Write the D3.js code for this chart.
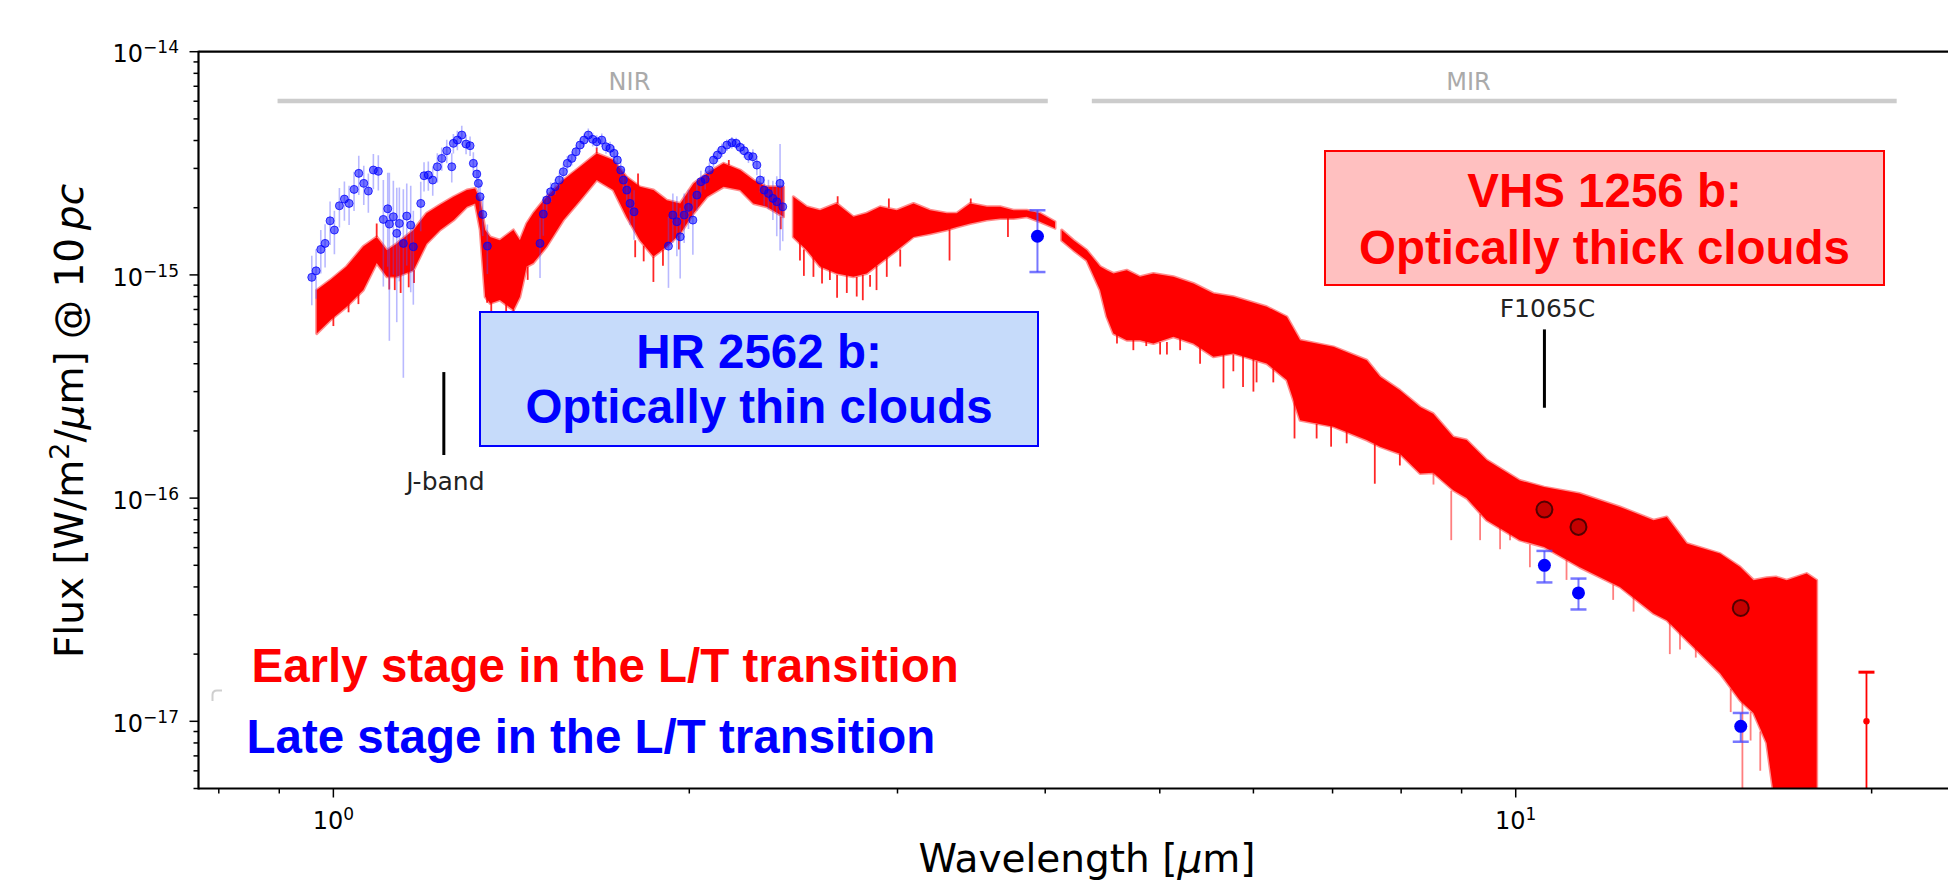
<!DOCTYPE html>
<html>
<head>
<meta charset="utf-8">
<title>HR 2562 b and VHS 1256 b spectra</title>
<script src="https://cdn.jsdelivr.net/npm/d3@7/dist/d3.min.js"></script>
<style>
  html, body { margin: 0; padding: 0; background: #ffffff; }
  svg { display: block; }
</style>
</head>
<body>
<svg id="chart" width="1948" height="886"></svg>
<script>
// ---------------- data ----------------
// VHS 1256 b model spectrum: wavelength (µm), upper / lower edge of the flux band (W/m²/µm at 10 pc),
// split in three wavelength segments
const vhsSegment = [
  0,0,0,0,0,0,0,0,0,0,0,0,0,0,0,0,0,0,0,0,0,0,0,0,0,0,0,0,0,0,0,0,0,0,0,0,0,0,
  1,1,1,1,1,1,1,1,1,1,1,1,1,1,1,1,1,1,1,
  2,2,2,2,2,2,2,2,2,2,2,2,2,2,2,2,2,2,2,2,2,2,2,2,2,2,2,2,2,2,2,2,2,2,2,2,2,2,2,2
];
const vhsWave = [
  0.968, 0.994, 1.026, 1.060, 1.088, 1.110, 1.131, 1.169, 1.199, 1.231, 1.264, 1.297, 1.318,
  1.331, 1.344, 1.357, 1.383, 1.420, 1.438, 1.457, 1.476, 1.515, 1.565, 1.617, 1.670, 1.725,
  1.770, 1.817, 1.865, 1.914, 1.965, 2.017, 2.070, 2.138, 2.208, 2.266, 2.325, 2.403,
  2.449, 2.514, 2.580, 2.665, 2.753, 2.825, 2.900, 2.996, 3.095, 3.196, 3.302, 3.367, 3.456,
  3.570, 3.664, 3.760, 3.859, 3.960, 4.077,
  4.130, 4.226, 4.337, 4.451, 4.509, 4.568, 4.688, 4.811, 4.938, 5.134,
  5.338, 5.550, 5.771, 6.158, 6.403, 6.571, 7.012, 7.482, 7.679, 7.981,
  8.300, 8.516, 8.856, 9.087, 9.450, 10.08, 10.57, 11.32, 12.25, 13.08,
  13.42, 13.95, 14.89, 15.48, 15.89, 16.30, 16.60, 16.95, 17.62, 17.97
];
const vhsHigh = [
  8.55e-16, 9.48e-16, 1.09e-15, 1.34e-15, 1.48e-15, 1.29e-15, 1.38e-15, 1.59e-15, 1.89e-15, 2.06e-15, 2.24e-15, 2.40e-15, 2.44e-15,
  2.16e-15, 1.59e-15, 1.48e-15, 1.43e-15, 1.59e-15, 1.43e-15, 1.70e-15, 1.89e-15, 2.24e-15, 2.66e-15, 3.05e-15, 3.50e-15, 3.27e-15,
  2.75e-15, 2.48e-15, 2.40e-15, 2.16e-15, 2.09e-15, 2.57e-15, 2.85e-15, 3.16e-15, 2.95e-15, 2.66e-15, 2.48e-15, 2.48e-15,
  2.24e-15, 2.02e-15, 1.95e-15, 2.09e-15, 1.82e-15, 1.89e-15, 2.02e-15, 1.95e-15, 2.09e-15, 1.95e-15, 1.89e-15, 1.89e-15, 2.09e-15,
  2.02e-15, 2.02e-15, 1.95e-15, 1.95e-15, 1.89e-15, 1.73e-15,
  1.59e-15, 1.43e-15, 1.29e-15, 1.09e-15, 1.05e-15, 1.015e-15, 1.05e-15, 9.81e-16, 1.015e-15, 9.81e-16,
  9.16e-16, 8.26e-16, 7.98e-16, 7.20e-16, 6.49e-16, 5.10e-16, 4.76e-16, 4.15e-16, 3.50e-16, 3.04e-16,
  2.56e-16, 2.39e-16, 1.88e-16, 1.82e-16, 1.48e-16, 1.20e-16, 1.12e-16, 1.05e-16, 9.13e-17, 7.96e-17,
  8.23e-17, 6.26e-17, 5.64e-17, 4.91e-17, 4.29e-17, 4.40e-17, 4.43e-17, 4.29e-17, 4.59e-17, 4.29e-17
];
const vhsLow = [
  5.46e-16, 6.27e-16, 7.20e-16, 8.55e-16, 1.13e-15, 9.81e-16, 9.81e-16, 1.05e-15, 1.38e-15, 1.59e-15, 1.76e-15, 2.02e-15, 2.09e-15,
  1.59e-15, 7.98e-16, 7.45e-16, 7.71e-16, 6.96e-16, 7.98e-16, 1.09e-15, 1.13e-15, 1.34e-15, 1.76e-15, 2.16e-15, 2.66e-15, 2.40e-15,
  1.82e-15, 1.43e-15, 1.21e-15, 1.34e-15, 1.53e-15, 1.89e-15, 2.24e-15, 2.48e-15, 2.40e-15, 2.09e-15, 2.02e-15, 1.82e-15,
  1.48e-15, 1.29e-15, 1.09e-15, 1.015e-15, 9.81e-16, 1.015e-15, 1.13e-15, 1.29e-15, 1.48e-15, 1.53e-15, 1.59e-15, 1.64e-15, 1.70e-15,
  1.76e-15, 1.79e-15, 1.79e-15, 1.82e-15, 1.73e-15, 1.62e-15,
  1.43e-15, 1.29e-15, 1.16e-15, 8.55e-16, 6.49e-16, 5.46e-16, 5.10e-16, 5.10e-16, 4.93e-16, 5.28e-16,
  4.93e-16, 4.30e-16, 4.45e-16, 4.01e-16, 3.38e-16, 2.23e-16, 2.09e-16, 1.82e-16, 1.70e-16, 1.58e-16,
  1.29e-16, 1.30e-16, 1.085e-16, 1.00e-16, 7.96e-17, 6.48e-17, 6.04e-17, 4.91e-17, 4.00e-17, 3.04e-17,
  2.84e-17, 2.31e-17, 1.64e-17, 1.24e-17, 1.09e-17, 8.0e-18, 4.0e-18, 4.0e-18, 4.0e-18, 4.0e-18
];

// Narrow spectral features sticking out of the band: wavelength, flux where they start, flux where they end
const dipWave = [
  1.000, 1.030, 1.050, 1.088, 1.115, 1.127, 1.140, 1.158, 1.170, 1.349,
  1.36, 1.40, 1.420, 1.46, 1.67, 1.800, 1.81, 1.83, 1.865, 1.90,
  1.96, 2.16, 2.39, 2.481, 2.50, 2.547, 2.59, 2.63, 2.667, 2.67,
  2.718, 2.771, 2.804, 2.844, 2.88, 2.938, 2.95, 3.016, 3.32, 3.46,
  3.72, 4.60, 4.749, 4.87, 5.003, 5.07, 5.202, 5.408, 5.66, 5.770,
  5.88, 6.00, 6.037, 6.237, 6.50, 6.786, 6.98, 7.195, 7.60, 7.98,
  8.52, 8.82, 9.33, 9.70, 9.89, 10.28, 11.04, 12.09, 12.58, 13.5,
  13.77, 14.2, 15.2, 15.55, 15.80, 16.10
];
const dipFrom = [
  6.5e-16, 7.6e-16, 8.3e-16, 1.48e-15, 1.0e-15, 1.0e-15, 1.0e-15, 1.05e-15, 1.05e-15, 8.0e-16,
  7.5e-16, 7.4e-16, 7.0e-16, 1.09e-15, 3.5e-15, 1.43e-15, 2.5e-15, 1.35e-15, 1.21e-15, 1.3e-15,
  1.5e-15, 3.1e-15, 1.82e-15, 1.4e-15, 1.3e-15, 1.2e-15, 1.1e-15, 1.1e-15, 1.0e-15, 2.09e-15,
  1.0e-15, 9.8e-16, 1.0e-15, 1.0e-15, 1.1e-15, 1.2e-15, 2.0e-15, 1.3e-15, 1.6e-15, 2.09e-15,
  1.8e-15, 5.5e-16, 5.2e-16, 5.1e-16, 5.0e-16, 5.0e-16, 5.2e-16, 4.8e-16, 4.4e-16, 4.4e-16,
  4.4e-16, 4.2e-16, 4.1e-16, 3.8e-16, 3.4e-16, 2.15e-16, 2.1e-16, 2.0e-16, 1.75e-16, 1.58e-16,
  1.30e-16, 1.08e-16, 8.5e-17, 7.5e-17, 7.0e-17, 6.2e-17, 5.3e-17, 4.1e-17, 3.6e-17, 2.8e-17,
  2.5e-17, 2.2e-17, 1.4e-17, 1.3e-17, 1.1e-17, 9e-18
];
const dipTo = [
  5.9e-16, 6.8e-16, 7.4e-16, 1.70e-15, 8.6e-16, 8.55e-16, 8.3e-16, 8.8e-16, 9.2e-16, 7.5e-16,
  6.5e-16, 6.6e-16, 6.3e-16, 9.5e-16, 3.72e-15, 1.2e-15, 2.85e-15, 1.15e-15, 9.3e-16, 1.1e-15,
  1.3e-15, 3.27e-15, 1.6e-15, 1.16e-15, 9.9e-16, 9.8e-16, 9.16e-16, 9.5e-16, 7.9e-16, 2.25e-15,
  8.3e-16, 8.0e-16, 7.7e-16, 8.85e-16, 8.55e-16, 9.8e-16, 2.2e-15, 1.09e-15, 1.16e-15, 2.2e-15,
  1.48e-15, 4.93e-16, 4.6e-16, 4.8e-16, 4.4e-16, 4.4e-16, 4.6e-16, 4.0e-16, 3.1e-16, 3.7e-16,
  3.15e-16, 3.0e-16, 3.3e-16, 3.3e-16, 1.85e-16, 1.85e-16, 1.70e-16, 1.76e-16, 1.16e-16, 1.40e-16,
  1.15e-16, 6.48e-17, 6.48e-17, 5.9e-17, 6.48e-17, 4.9e-17, 4.3e-17, 3.5e-17, 3.1e-17, 2.0e-17,
  2.1e-17, 1.93e-17, 1.1e-17, 4e-18, 8.2e-18, 6e-18
];

// HR 2562 b near-infrared spectrum: wavelength (µm), flux, relative uncertainty
const hrWave = [
  0.9588, 0.9669, 0.9758, 0.9840, 0.9936, 1.0020, 1.0118, 1.0217, 1.0311, 1.0411, 1.0507, 1.0610, 1.0705, 1.0810, 1.0915,
  1.1022, 1.1117, 1.1152, 1.1239, 1.1314, 1.1371, 1.1460, 1.1536, 1.1626, 1.1685,
  1.1855, 1.1931, 1.2031, 1.2135, 1.2244, 1.2350, 1.2471, 1.2593, 1.2633, 1.2731, 1.2841, 1.2949, 1.3050, 1.3134, 1.3222,
  1.3263, 1.3307, 1.3377, 1.3497,
  1.4955, 1.5051, 1.5152, 1.5270, 1.5399, 1.5528, 1.5650, 1.5772, 1.5908, 1.6041, 1.6167, 1.6293, 1.6430, 1.6571, 1.6701,
  1.6865, 1.7006, 1.7140, 1.7274, 1.7385, 1.7501, 1.7590, 1.7707, 1.7821, 1.7960,
  1.9205, 1.9370, 1.9522, 1.9648, 1.9801, 1.9968, 2.0140, 2.0297, 2.0456, 2.0628, 2.0797, 2.0964, 2.1128, 2.1310, 2.1518,
  2.1729, 2.1911, 2.2083, 2.2256, 2.2443, 2.2636, 2.2813, 2.2960, 2.3140, 2.3334, 2.3536, 2.3714, 2.3867, 2.3993
];
const hrFlux = [
  9.75e-16, 1.043e-15, 1.301e-15, 1.384e-15, 1.747e-15, 1.588e-15, 2.040e-15, 2.186e-15, 2.091e-15, 2.416e-15, 2.851e-15, 2.571e-15, 2.375e-15, 2.950e-15, 2.911e-15,
  1.773e-15, 1.978e-15, 1.689e-15, 1.822e-15, 1.535e-15, 1.701e-15, 1.384e-15, 1.835e-15, 1.672e-15, 1.337e-15,
  2.091e-15, 2.781e-15, 2.801e-15, 2.660e-15, 3.051e-15, 3.327e-15, 3.599e-15, 3.051e-15, 3.885e-15, 4.019e-15, 4.232e-15, 3.857e-15, 3.790e-15, 3.161e-15, 2.831e-15,
  2.571e-15, 2.239e-15, 1.866e-15, 1.346e-15,
  1.384e-15, 1.873e-15, 2.164e-15, 2.358e-15, 2.483e-15, 2.660e-15, 2.899e-15, 3.161e-15, 3.327e-15, 3.562e-15, 3.817e-15, 4.019e-15, 4.232e-15, 4.048e-15, 3.949e-15,
  4.019e-15, 3.751e-15, 3.690e-15, 3.504e-15, 3.270e-15, 2.950e-15, 2.660e-15, 2.399e-15, 2.091e-15, 1.918e-15,
  1.346e-15, 1.854e-15, 1.730e-15, 1.482e-15, 1.854e-15, 2.007e-15, 1.760e-15, 2.278e-15, 2.614e-15, 2.680e-15, 2.950e-15, 3.270e-15, 3.443e-15, 3.625e-15, 3.817e-15,
  3.910e-15, 3.885e-15, 3.727e-15, 3.599e-15, 3.407e-15, 3.383e-15, 3.105e-15, 2.660e-15, 2.399e-15, 2.318e-15, 2.202e-15, 2.127e-15, 2.571e-15, 2.019e-15
];
const hrErr = [
  0.25, 0.25, 0.22, 0.22, 0.22, 0.22, 0.20, 0.20, 0.20, 0.20, 0.20, 0.20, 0.20, 0.18, 0.18,
  0.50, 0.45, 0.70, 0.45, 0.60, 0.45, 0.75, 0.40, 0.50, 0.45,
  0.25, 0.15, 0.15, 0.15, 0.15, 0.12, 0.12, 0.15, 0.10, 0.10, 0.10, 0.10, 0.10, 0.12, 0.12,
  0.15, 0.15, 0.20, 0.25,
  0.30, 0.20, 0.12, 0.10, 0.08, 0.08, 0.08, 0.08, 0.07, 0.07, 0.07, 0.07, 0.07, 0.07, 0.07,
  0.07, 0.07, 0.07, 0.08, 0.08, 0.10, 0.12, 0.15, 0.20, 0.25,
  0.35, 0.25, 0.30, 0.35, 0.25, 0.20, 0.30, 0.15, 0.12, 0.10, 0.08, 0.07, 0.07, 0.07, 0.06,
  0.06, 0.06, 0.06, 0.07, 0.07, 0.08, 0.10, 0.12, 0.15, 0.15, 0.20, 0.30, 0.50, 0.30
];

// HR 2562 b photometry (flux with lower / upper bounds)
const hrPhotWave = [3.94, 10.575, 11.30, 15.50];
const hrPhotFlux = [1.49e-15, 5.0e-17, 3.76e-17, 9.5e-18];
const hrPhotLow  = [1.03e-15, 4.19e-17, 3.17e-17, 8.1e-18];
const hrPhotHigh = [1.95e-15, 5.8e-17, 4.36e-17, 1.09e-17];

// VHS 1256 b MIRI photometry
const vhsPhotWave = [10.575, 11.30, 15.50];
const vhsPhotFlux = [8.89e-17, 7.43e-17, 3.22e-17];

// Long-wavelength point with its error bar
const lwWave = [19.8];
const lwFlux = [1.0e-17];
const lwLow  = [1.0e-19];
const lwHigh = [1.66e-17];

// Axis ticks
const xMajor = [1, 10];
const xMinor = [0.8, 0.9, 2, 3, 4, 5, 6, 7, 8, 9, 20];
const yMajor = [1e-14, 1e-15, 1e-16, 1e-17];
const yMinor = [
  2e-15, 3e-15, 4e-15, 5e-15, 6e-15, 7e-15, 8e-15, 9e-15,
  2e-16, 3e-16, 4e-16, 5e-16, 6e-16, 7e-16, 8e-16, 9e-16,
  2e-17, 3e-17, 4e-17, 5e-17, 6e-17, 7e-17, 8e-17, 9e-17,
  5e-18, 6e-18, 7e-18, 8e-18, 9e-18
];

// Spectral ranges drawn along the top
const rangeName  = ["NIR", "MIR"];
const rangeStart = [0.897, 4.38];
const rangeEnd   = [4.02, 21.0];
const rangeLabel = [1.78, 9.12];

// Filter markers
const markerName = ["J-band", "F1065C"];
const markerWave = [1.24, 10.575];
const markerHigh = [3.67e-16, 5.7e-16];
const markerLow  = [1.56e-16, 2.54e-16];

// ---------------- layout ----------------
const W = 1948, H = 886;
const plot = { left: 198.5, top: 51.7, right: 2000, bottom: 788.5 };
const xDomain = [0.769, 25.68];
const yDomain = [5e-18, 1e-14];

const x = d3.scaleLog().domain(xDomain).range([plot.left, plot.right]);
const y = d3.scaleLog().domain(yDomain).range([plot.bottom, plot.top]);

const RED = "#ff0000", BLUE = "#0000ff";
const axisFont = "'DejaVu Sans', sans-serif";
const boxFont = "'Liberation Sans', Arial, sans-serif";

const svg = d3.select("#chart");
svg.append("rect").attr("width", W).attr("height", H).attr("fill", "#ffffff");

svg.append("defs").append("clipPath").attr("id", "plotClip")
  .append("rect")
  .attr("x", plot.left).attr("y", plot.top)
  .attr("width", plot.right - plot.left).attr("height", plot.bottom - plot.top);

const dataG = svg.append("g").attr("clip-path", "url(#plotClip)");

// NIR / MIR range bars
rangeName.forEach((name, i) => {
  dataG.append("line")
    .attr("x1", x(rangeStart[i])).attr("x2", x(rangeEnd[i]))
    .attr("y1", 101).attr("y2", 101)
    .attr("stroke", "#cccccc").attr("stroke-width", 4.5);
  svg.append("text")
    .attr("x", x(rangeLabel[i])).attr("y", 90)
    .attr("text-anchor", "middle")
    .attr("font-family", axisFont).attr("font-size", 24)
    .attr("fill", "#aaaaaa")
    .text(name);
});

// VHS 1256 b model band
const vhsRows = vhsWave.map((w, i) => ({ w, hi: vhsHigh[i], lo: vhsLow[i], seg: vhsSegment[i] }));
const band = d3.area().x(d => x(d.w)).y0(d => y(d.lo)).y1(d => y(d.hi));
d3.groups(vhsRows, d => d.seg).forEach(([, rows]) => {
  dataG.append("path")
    .attr("d", band(rows))
    .attr("fill", RED)
    .attr("stroke", RED).attr("stroke-opacity", 0.45).attr("stroke-width", 3)
    .attr("stroke-linejoin", "round");
});

// narrow features
dataG.selectAll("line.dip")
  .data(dipWave.map((w, i) => ({ w, a: dipFrom[i], b: dipTo[i] })))
  .join("line")
  .attr("class", "dip")
  .attr("x1", d => x(d.w)).attr("x2", d => x(d.w))
  .attr("y1", d => y(d.a)).attr("y2", d => y(d.b))
  .attr("stroke", RED)
  .attr("stroke-opacity", d => d.w > 8 ? 0.5 : 0.85)
  .attr("stroke-width", 1.8);

// HR 2562 b spectrum: error bars then points
const hrRows = hrWave.map((w, i) => ({ w, f: hrFlux[i], e: hrErr[i] }));
dataG.selectAll("line.hrerr")
  .data(hrRows)
  .join("line")
  .attr("class", "hrerr")
  .attr("x1", d => x(d.w)).attr("x2", d => x(d.w))
  .attr("y1", d => y(d.f * (1 - d.e))).attr("y2", d => y(d.f * (1 + d.e)))
  .attr("stroke", "#5050ff").attr("stroke-opacity", 0.4).attr("stroke-width", 1.6);
dataG.selectAll("circle.hr")
  .data(hrRows)
  .join("circle")
  .attr("class", "hr")
  .attr("cx", d => x(d.w)).attr("cy", d => y(d.f))
  .attr("r", 4)
  .attr("fill", BLUE).attr("fill-opacity", 0.55)
  .attr("stroke", BLUE).attr("stroke-opacity", 0.75).attr("stroke-width", 1);

// error bar with caps
function capBar(g, xv, lo, hi, color, width, cap, opacity) {
  g.append("line").attr("x1", xv).attr("x2", xv).attr("y1", y(lo)).attr("y2", y(hi))
    .attr("stroke", color).attr("stroke-width", width).attr("stroke-opacity", opacity);
  [lo, hi].forEach(v => {
    g.append("line").attr("x1", xv - cap).attr("x2", xv + cap).attr("y1", y(v)).attr("y2", y(v))
      .attr("stroke", color).attr("stroke-width", width + 0.5).attr("stroke-opacity", opacity);
  });
}

// VHS 1256 b photometry
dataG.selectAll("circle.vhsphot")
  .data(vhsPhotWave.map((w, i) => ({ w, f: vhsPhotFlux[i] })))
  .join("circle")
  .attr("class", "vhsphot")
  .attr("cx", d => x(d.w)).attr("cy", d => y(d.f))
  .attr("r", 8)
  .attr("fill", "#b00000").attr("fill-opacity", 0.75)
  .attr("stroke", "#300000").attr("stroke-opacity", 0.8).attr("stroke-width", 2);

// HR 2562 b photometry
hrPhotWave.forEach((w, i) => capBar(dataG, x(w), hrPhotLow[i], hrPhotHigh[i], "#4a4aff", 2, 8, 0.75));
dataG.selectAll("circle.hrphot")
  .data(hrPhotWave.map((w, i) => ({ w, f: hrPhotFlux[i] })))
  .join("circle")
  .attr("class", "hrphot")
  .attr("cx", d => x(d.w)).attr("cy", d => y(d.f))
  .attr("r", 6.5)
  .attr("fill", BLUE);

// long-wavelength point
lwWave.forEach((w, i) => {
  dataG.append("line").attr("x1", x(w)).attr("x2", x(w)).attr("y1", y(lwLow[i])).attr("y2", y(lwHigh[i]))
    .attr("stroke", RED).attr("stroke-width", 1.8);
  dataG.append("line").attr("x1", x(w) - 8).attr("x2", x(w) + 8).attr("y1", y(lwHigh[i])).attr("y2", y(lwHigh[i]))
    .attr("stroke", RED).attr("stroke-width", 3);
  dataG.append("circle").attr("cx", x(w)).attr("cy", y(lwFlux[i])).attr("r", 3.2).attr("fill", RED);
});

// filter markers
markerName.forEach((name, i) => {
  const mx = x(markerWave[i]);
  svg.append("line").attr("x1", mx).attr("x2", mx)
    .attr("y1", y(markerHigh[i])).attr("y2", y(markerLow[i]))
    .attr("stroke", "#000000").attr("stroke-width", 3);
  const below = i === 0;
  svg.append("text")
    .attr("x", mx + (below ? 1.5 : 3))
    .attr("y", below ? y(markerLow[i]) + 35 : y(markerHigh[i]) - 12)
    .attr("text-anchor", "middle")
    .attr("font-family", axisFont).attr("font-size", 25)
    .attr("fill", "#222222")
    .text(name);
});

// annotation boxes
function noteBox(bx, by, bw, bh, fill, stroke, color, lines, baselines) {
  svg.append("rect").attr("x", bx).attr("y", by).attr("width", bw).attr("height", bh)
    .attr("fill", fill).attr("stroke", stroke).attr("stroke-width", 2);
  lines.forEach((t, k) => {
    svg.append("text").attr("x", bx + bw / 2).attr("y", baselines[k])
      .attr("text-anchor", "middle")
      .attr("font-family", boxFont).attr("font-weight", "bold").attr("font-size", 47.5)
      .attr("fill", color).text(t);
  });
}
noteBox(480, 312, 558, 134, "#c6dbfa", BLUE, BLUE, ["HR 2562 b:", "Optically thin clouds"], [368, 423]);
noteBox(1325, 151, 559, 134, "#ffc0c0", RED, RED, ["VHS 1256 b:", "Optically thick clouds"], [207, 264]);

// stage captions
svg.append("text").attr("x", 251.5).attr("y", 682)
  .attr("font-family", boxFont).attr("font-weight", "bold").attr("font-size", 47.5)
  .attr("fill", RED).text("Early stage in the L/T transition");
svg.append("text").attr("x", 246.5).attr("y", 753)
  .attr("font-family", boxFont).attr("font-weight", "bold").attr("font-size", 47.5)
  .attr("fill", BLUE).text("Late stage in the L/T transition");

// faint corner left over from a legend frame
svg.append("path").attr("d", "M212.5,701 L212.5,695 Q212.5,690.5 217,690.5 L222,690.5")
  .attr("fill", "none").attr("stroke", "#cfcfcf").attr("stroke-width", 2);

// ---------------- axes ----------------
const axG = svg.append("g");
function tickLines(values, len, horizontal) {
  values.forEach(v => {
    if (horizontal) {
      const px = x(v);
      if (px > W) return;
      axG.append("line").attr("x1", px).attr("x2", px).attr("y1", plot.bottom).attr("y2", plot.bottom + len)
        .attr("stroke", "#000").attr("stroke-width", 1.5);
    } else {
      const py = y(v);
      axG.append("line").attr("x1", plot.left - len).attr("x2", plot.left).attr("y1", py).attr("y2", py)
        .attr("stroke", "#000").attr("stroke-width", 1.5);
    }
  });
}
tickLines(xMajor, 9, true);
tickLines(xMinor, 5, true);
tickLines(yMajor, 9, false);
tickLines(yMinor, 5, false);

// spines
axG.append("line").attr("x1", plot.left).attr("x2", plot.left).attr("y1", plot.top - 1).attr("y2", plot.bottom + 1)
  .attr("stroke", "#000").attr("stroke-width", 2.2);
axG.append("line").attr("x1", plot.left).attr("x2", W).attr("y1", plot.top).attr("y2", plot.top)
  .attr("stroke", "#000").attr("stroke-width", 2.2);
axG.append("line").attr("x1", plot.left).attr("x2", W).attr("y1", plot.bottom).attr("y2", plot.bottom)
  .attr("stroke", "#000").attr("stroke-width", 2.2);

// power-of-ten tick labels
function powLabel(px, py, exp, anchor) {
  const t = axG.append("text").attr("x", px).attr("y", py).attr("text-anchor", anchor)
    .attr("font-family", axisFont).attr("font-size", 24).attr("fill", "#000");
  t.append("tspan").text("10");
  t.append("tspan").attr("dy", -9).attr("font-size", 17).text(exp < 0 ? "\u2212" + Math.abs(exp) : String(exp));
}
xMajor.forEach(v => powLabel(x(v), plot.bottom + 40, Math.round(Math.log10(v)), "middle"));
yMajor.forEach(v => powLabel(179, y(v) + 10.7, Math.round(Math.log10(v)), "end"));

// axis titles
const xt = svg.append("text").attr("x", 1087).attr("y", 872).attr("text-anchor", "middle")
  .attr("font-family", axisFont).attr("font-size", 39).attr("fill", "#000");
xt.append("tspan").text("Wavelength [");
xt.append("tspan").attr("font-style", "italic").text("\u03bc");
xt.append("tspan").text("m]");

const yt = svg.append("text").attr("transform", "translate(83,421) rotate(-90)").attr("text-anchor", "middle")
  .attr("font-family", axisFont).attr("font-size", 39).attr("fill", "#000");
yt.append("tspan").text("Flux [W/m");
yt.append("tspan").attr("dy", -14).attr("font-size", 27).text("2");
yt.append("tspan").attr("dy", 14).text("/");
yt.append("tspan").attr("font-style", "italic").text("\u03bc");
yt.append("tspan").text("m] @ 10\u2009");
yt.append("tspan").attr("font-style", "italic").text("pc");
</script>
</body>
</html>
